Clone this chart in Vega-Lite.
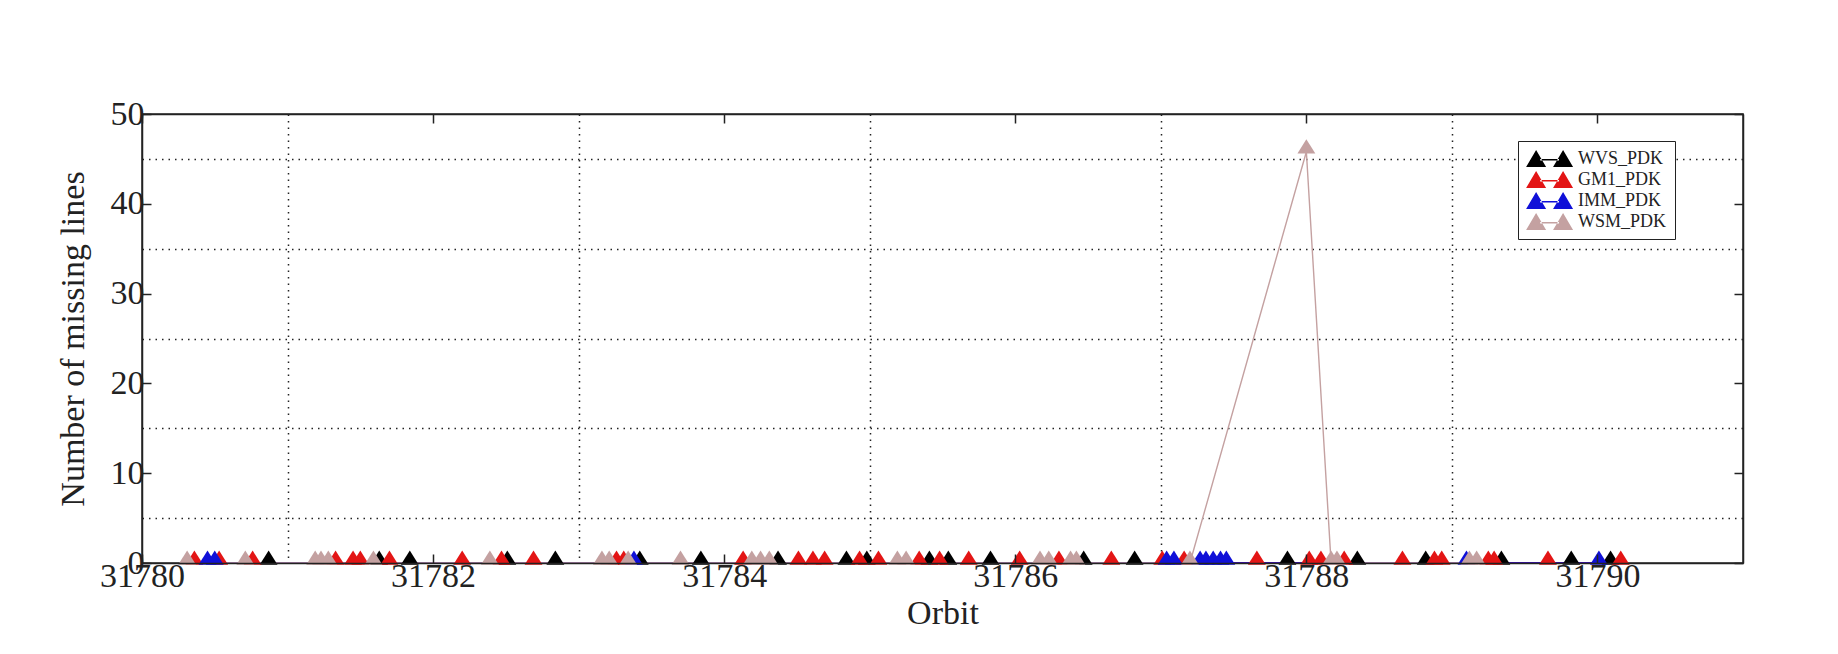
{
  "$schema": "https://vega.github.io/schema/vega-lite/v6.json",
  "width": 1601,
  "height": 449,
  "autosize": {"type": "none"},
  "padding": {"left": 142, "top": 114, "right": 95, "bottom": 91},
  "background": "white",
  "config": {
    "view": {"stroke": "#222222", "strokeWidth": 1.5},
    "axis": {
      "labelFont": "Liberation Serif",
      "labelFontSize": 34,
      "labelColor": "#222222",
      "titleFont": "Liberation Serif",
      "titleFontSize": 34,
      "titleFontWeight": "normal",
      "titleColor": "#222222",
      "domainColor": "#222222",
      "domainWidth": 1.5,
      "tickColor": "#222222",
      "tickWidth": 1.5,
      "labelFlush": false
    }
  },
  "data": {
    "values": [
      {"series": "WVS_PDK", "orbit": 31780.87, "lines": 0},
      {"series": "WVS_PDK", "orbit": 31781.63, "lines": 0},
      {"series": "WVS_PDK", "orbit": 31781.84, "lines": 0},
      {"series": "WVS_PDK", "orbit": 31782.51, "lines": 0},
      {"series": "WVS_PDK", "orbit": 31782.84, "lines": 0},
      {"series": "WVS_PDK", "orbit": 31783.42, "lines": 0},
      {"series": "WVS_PDK", "orbit": 31783.84, "lines": 0},
      {"series": "WVS_PDK", "orbit": 31784.37, "lines": 0},
      {"series": "WVS_PDK", "orbit": 31784.84, "lines": 0},
      {"series": "WVS_PDK", "orbit": 31784.98, "lines": 0},
      {"series": "WVS_PDK", "orbit": 31785.41, "lines": 0},
      {"series": "WVS_PDK", "orbit": 31785.54, "lines": 0},
      {"series": "WVS_PDK", "orbit": 31785.83, "lines": 0},
      {"series": "WVS_PDK", "orbit": 31786.47, "lines": 0},
      {"series": "WVS_PDK", "orbit": 31786.82, "lines": 0},
      {"series": "WVS_PDK", "orbit": 31787.87, "lines": 0},
      {"series": "WVS_PDK", "orbit": 31788.35, "lines": 0},
      {"series": "WVS_PDK", "orbit": 31788.82, "lines": 0},
      {"series": "WVS_PDK", "orbit": 31789.34, "lines": 0},
      {"series": "WVS_PDK", "orbit": 31789.82, "lines": 0},
      {"series": "WVS_PDK", "orbit": 31790.09, "lines": 0},
      {"series": "GM1_PDK", "orbit": 31780.36, "lines": 0},
      {"series": "GM1_PDK", "orbit": 31780.53, "lines": 0},
      {"series": "GM1_PDK", "orbit": 31780.76, "lines": 0},
      {"series": "GM1_PDK", "orbit": 31781.33, "lines": 0},
      {"series": "GM1_PDK", "orbit": 31781.45, "lines": 0},
      {"series": "GM1_PDK", "orbit": 31781.50, "lines": 0},
      {"series": "GM1_PDK", "orbit": 31781.70, "lines": 0},
      {"series": "GM1_PDK", "orbit": 31782.20, "lines": 0},
      {"series": "GM1_PDK", "orbit": 31782.47, "lines": 0},
      {"series": "GM1_PDK", "orbit": 31782.69, "lines": 0},
      {"series": "GM1_PDK", "orbit": 31783.26, "lines": 0},
      {"series": "GM1_PDK", "orbit": 31783.31, "lines": 0},
      {"series": "GM1_PDK", "orbit": 31784.13, "lines": 0},
      {"series": "GM1_PDK", "orbit": 31784.51, "lines": 0},
      {"series": "GM1_PDK", "orbit": 31784.61, "lines": 0},
      {"series": "GM1_PDK", "orbit": 31784.69, "lines": 0},
      {"series": "GM1_PDK", "orbit": 31784.93, "lines": 0},
      {"series": "GM1_PDK", "orbit": 31785.06, "lines": 0},
      {"series": "GM1_PDK", "orbit": 31785.34, "lines": 0},
      {"series": "GM1_PDK", "orbit": 31785.48, "lines": 0},
      {"series": "GM1_PDK", "orbit": 31785.68, "lines": 0},
      {"series": "GM1_PDK", "orbit": 31786.03, "lines": 0},
      {"series": "GM1_PDK", "orbit": 31786.30, "lines": 0},
      {"series": "GM1_PDK", "orbit": 31786.66, "lines": 0},
      {"series": "GM1_PDK", "orbit": 31787.01, "lines": 0},
      {"series": "GM1_PDK", "orbit": 31787.16, "lines": 0},
      {"series": "GM1_PDK", "orbit": 31787.66, "lines": 0},
      {"series": "GM1_PDK", "orbit": 31788.02, "lines": 0},
      {"series": "GM1_PDK", "orbit": 31788.10, "lines": 0},
      {"series": "GM1_PDK", "orbit": 31788.26, "lines": 0},
      {"series": "GM1_PDK", "orbit": 31788.66, "lines": 0},
      {"series": "GM1_PDK", "orbit": 31788.88, "lines": 0},
      {"series": "GM1_PDK", "orbit": 31788.93, "lines": 0},
      {"series": "GM1_PDK", "orbit": 31789.25, "lines": 0},
      {"series": "GM1_PDK", "orbit": 31789.29, "lines": 0},
      {"series": "GM1_PDK", "orbit": 31789.66, "lines": 0},
      {"series": "GM1_PDK", "orbit": 31790.16, "lines": 0},
      {"series": "IMM_PDK", "orbit": 31780.45, "lines": 0},
      {"series": "IMM_PDK", "orbit": 31780.50, "lines": 0},
      {"series": "IMM_PDK", "orbit": 31783.38, "lines": 0},
      {"series": "IMM_PDK", "orbit": 31787.04, "lines": 0},
      {"series": "IMM_PDK", "orbit": 31787.09, "lines": 0},
      {"series": "IMM_PDK", "orbit": 31787.27, "lines": 0},
      {"series": "IMM_PDK", "orbit": 31787.31, "lines": 0},
      {"series": "IMM_PDK", "orbit": 31787.36, "lines": 0},
      {"series": "IMM_PDK", "orbit": 31787.41, "lines": 0},
      {"series": "IMM_PDK", "orbit": 31787.45, "lines": 0},
      {"series": "IMM_PDK", "orbit": 31789.10, "lines": 0},
      {"series": "IMM_PDK", "orbit": 31790.01, "lines": 0},
      {"series": "WSM_PDK", "orbit": 31780.31, "lines": 0},
      {"series": "WSM_PDK", "orbit": 31780.71, "lines": 0},
      {"series": "WSM_PDK", "orbit": 31781.19, "lines": 0},
      {"series": "WSM_PDK", "orbit": 31781.23, "lines": 0},
      {"series": "WSM_PDK", "orbit": 31781.28, "lines": 0},
      {"series": "WSM_PDK", "orbit": 31781.59, "lines": 0},
      {"series": "WSM_PDK", "orbit": 31782.39, "lines": 0},
      {"series": "WSM_PDK", "orbit": 31783.16, "lines": 0},
      {"series": "WSM_PDK", "orbit": 31783.21, "lines": 0},
      {"series": "WSM_PDK", "orbit": 31783.34, "lines": 0},
      {"series": "WSM_PDK", "orbit": 31783.70, "lines": 0},
      {"series": "WSM_PDK", "orbit": 31784.19, "lines": 0},
      {"series": "WSM_PDK", "orbit": 31784.25, "lines": 0},
      {"series": "WSM_PDK", "orbit": 31784.31, "lines": 0},
      {"series": "WSM_PDK", "orbit": 31785.19, "lines": 0},
      {"series": "WSM_PDK", "orbit": 31785.25, "lines": 0},
      {"series": "WSM_PDK", "orbit": 31786.17, "lines": 0},
      {"series": "WSM_PDK", "orbit": 31786.23, "lines": 0},
      {"series": "WSM_PDK", "orbit": 31786.38, "lines": 0},
      {"series": "WSM_PDK", "orbit": 31786.42, "lines": 0},
      {"series": "WSM_PDK", "orbit": 31787.20, "lines": 0},
      {"series": "WSM_PDK", "orbit": 31788.00, "lines": 45.8},
      {"series": "WSM_PDK", "orbit": 31788.17, "lines": 0},
      {"series": "WSM_PDK", "orbit": 31788.21, "lines": 0},
      {"series": "WSM_PDK", "orbit": 31789.12, "lines": 0},
      {"series": "WSM_PDK", "orbit": 31789.17, "lines": 0}
    ]
  },
  "encoding": {
    "x": {"field": "orbit", "type": "quantitative", "scale": {"domain": [31780, 31791], "nice": false, "zero": false}},
    "y": {"field": "lines", "type": "quantitative", "scale": {"domain": [0, 50], "nice": false}},
    "color": {
      "field": "series",
      "type": "nominal",
      "scale": {
        "domain": ["WVS_PDK", "GM1_PDK", "IMM_PDK", "WSM_PDK"],
        "range": ["#000000", "#e31515", "#1010d8", "#c4a1a1"]
      }
    }
  },
  "layer": [
    {
      "mark": {"type": "line", "strokeWidth": 1.4},
      "encoding": {
        "x": {"field": "orbit", "type": "quantitative", "axis": {"orient": "bottom", "values": [31781, 31783, 31785, 31787, 31789], "grid": true, "gridDash": [1.5, 5], "gridColor": "#222222", "gridWidth": 1.5, "ticks": false, "labels": false, "domain": false, "title": null}},
        "y": {"field": "lines", "type": "quantitative", "axis": {"orient": "left", "values": [5, 15, 25, 35, 45], "grid": true, "gridDash": [1.5, 5], "gridColor": "#222222", "gridWidth": 1.5, "ticks": false, "labels": false, "domain": false, "title": null}},
        "color": {"field": "series", "type": "nominal", "legend": null}
      }
    },
    {
      "transform": [{"filter": "datum.series != 'WSM_PDK'"}],
      "mark": {"type": "point", "filled": true, "opacity": 1, "size": 320, "strokeWidth": 0},
      "encoding": {
        "x": {"field": "orbit", "type": "quantitative", "axis": {"orient": "bottom", "values": [31780, 31782, 31784, 31786, 31788, 31790], "format": "d", "grid": false, "tickSize": -9, "labelPadding": 5, "title": "Orbit", "titlePadding": 3, "zindex": 1}},
        "y": {"field": "lines", "type": "quantitative", "axis": {"orient": "left", "values": [0, 10, 20, 30, 40, 50], "grid": false, "tickSize": -9, "labelPadding": 7, "title": "Number of missing lines", "titlePadding": 20, "zindex": 1}},
        "shape": {"field": "series", "type": "nominal", "scale": {"range": ["M-1,0.2L1,0.2L0,-1.4Z"]}, "legend": null},
        "color": {
          "field": "series",
          "type": "nominal",
          "legend": {
            "orient": "none",
            "legendX": 1376,
            "legendY": 27,
            "title": null,
            "strokeColor": "#222222",
            "fillColor": "white",
            "padding": 8,
            "rowPadding": 2,
            "labelFont": "Liberation Serif",
            "labelFontSize": 18,
            "labelColor": "#222222",
            "symbolType": "M-1,0.9L1.13,0.9L0.065,-0.9Z M1.87,0.9L4,0.9L2.935,-0.9Z M0.5,0.05L2.5,0.05L2.5,0.2L0.5,0.2Z",
            "symbolSize": 353,
            "symbolStrokeWidth": 0,
            "symbolOpacity": 1,
            "labelOffset": 33
          }
        }
      }
    },
    {
      "transform": [{"filter": "datum.series == 'WSM_PDK'"}],
      "mark": {"type": "point", "filled": true, "opacity": 1, "size": 320, "strokeWidth": 0},
      "encoding": {
        "x": {"field": "orbit", "type": "quantitative", "axis": {"orient": "top", "values": [31780, 31782, 31784, 31786, 31788, 31790], "grid": false, "tickSize": -9, "labels": false, "title": null}},
        "y": {"field": "lines", "type": "quantitative", "axis": {"orient": "right", "values": [0, 10, 20, 30, 40, 50], "grid": false, "tickSize": -9, "labels": false, "title": null}},
        "shape": {"field": "series", "type": "nominal", "legend": null},
        "color": {"field": "series", "type": "nominal", "legend": null}
      }
    }
  ],
  "resolve": {"axis": {"x": "independent", "y": "independent"}, "legend": {"color": "independent"}}
}
